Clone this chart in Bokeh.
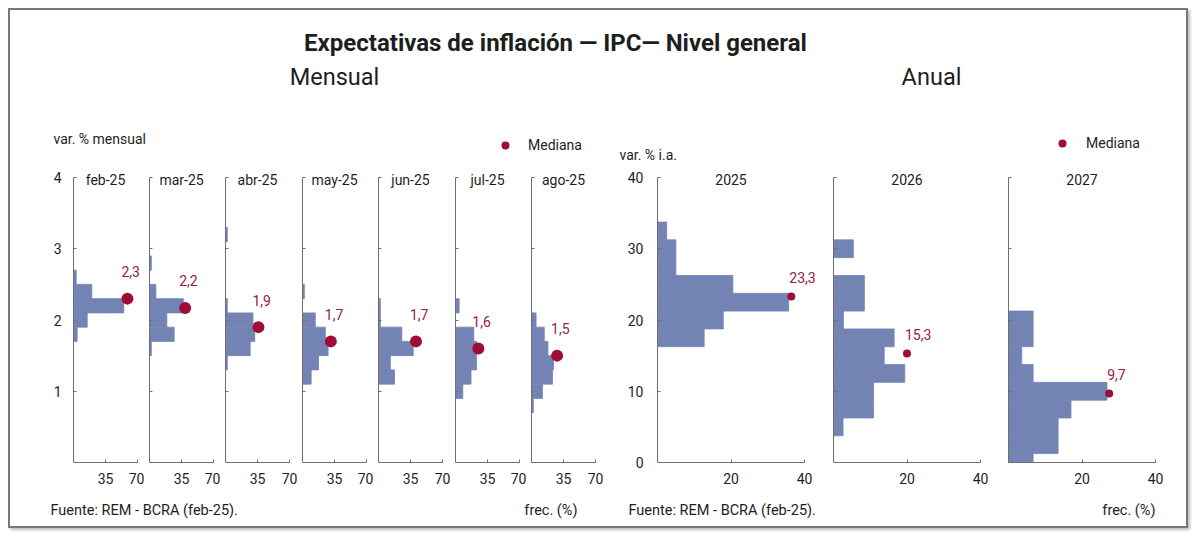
from bokeh.plotting import figure
from bokeh.layouts import row, column
from bokeh.models import Range1d, FixedTicker, Label, Legend, LegendItem
from bokeh.embed import file_html
from bokeh.resources import INLINE
from bokeh.core.properties import value

FONT = "Roboto"
BAR = "#7384B4"
DOT = "#A00D34"
LBL = "#962147"
AXC = "#6f6f6f"
TXT = "#1e1e1e"

# ---------------- data: monthly ----------------
monthly_periods = ["feb-25", "mar-25", "abr-25", "may-25", "jun-25", "jul-25", "ago-25"]
monthly_bins = [0.8, 1.0, 1.2, 1.4, 1.6, 1.8, 2.0, 2.2, 2.4, 2.6, 2.8, 3.0, 3.2]
monthly_bin_width = 0.2
freq_feb = [0, 0, 0, 0, 0, 4, 15, 55, 20, 3, 0, 0, 0]
freq_mar = [0, 0, 0, 0, 2, 27, 19, 37, 7, 0, 2, 0, 0]
freq_abr = [0, 0, 0, 2, 27, 32, 30, 2, 0, 0, 0, 0, 2]
freq_may = [0, 0, 9.5, 17.5, 28, 25, 14, 0, 2, 0, 0, 0, 0]
freq_jun = [0, 0, 17.5, 13, 38, 25.5, 2, 2, 0, 0, 0, 0, 0]
freq_jul = [0, 8, 17, 23, 23, 20, 0, 4, 0, 0, 0, 0, 0]
freq_ago = [2, 12, 23, 24, 18, 14, 5, 0, 0, 0, 0, 0, 0]
monthly_freqs = [freq_feb, freq_mar, freq_abr, freq_may, freq_jun, freq_jul, freq_ago]
monthly_median = [2.3, 2.17, 1.9, 1.7, 1.7, 1.6, 1.5]
monthly_median_freq = [59, 39, 36, 31, 41, 25, 28]
monthly_median_label = ["2,3", "2,2", "1,9", "1,7", "1,7", "1,6", "1,5"]
monthly_xmax = 70
monthly_ymax = 4
monthly_xticks = [35, 70]
monthly_yticks = [1, 2, 3, 4]

# ---------------- data: annual ----------------
annual_periods = ["2025", "2026", "2027"]
annual_bins = [0, 2.5, 5, 7.5, 10, 12.5, 15, 17.5, 20, 22.5, 25, 27.5, 30, 32.5]
annual_bin_width = 2.5
freq_2025 = [0, 0, 0, 0, 0, 0, 0, 12.7, 17.9, 35.7, 20.5, 5, 5, 2.5]
freq_2026 = [0, 0, 2.6, 10.9, 10.9, 19.4, 13.8, 16.5, 2.7, 8.4, 8.4, 0, 5.4, 0]
freq_2027 = [6.7, 13.5, 13.5, 17, 26.8, 6.7, 3.6, 6.7, 6.7, 0, 0, 0, 0, 0]
annual_freqs = [freq_2025, freq_2026, freq_2027]
annual_median = [23.3, 15.3, 9.7]
annual_median_freq = [36.4, 20, 27.4]
annual_median_label = ["23,3", "15,3", "9,7"]
annual_xmax = 40
annual_ymax = 40
annual_xticks = [20, 40]
annual_yticks = [0, 10, 20, 30, 40]

# ---------------- layout (pixels) ----------------
PANEL_H = 330
BOTTOM = 30
FRAME_H = PANEL_H - BOTTOM          # frame height
AXIS_H = 285                        # pixels spanned by the y axis
M_AXIS_W = 64                       # pixels spanned by 0..70
A_AXIS_W = 147                      # pixels spanned by 0..40


def make_panel(title, bins, bw, freqs, med, medf, medlab, xmax, ymax, xticks, yticks,
               width, left, axis_w, show_y, dot_size, lx, ly, ystand):
    fw = width - left
    x_end = xmax * fw / axis_w
    y_end = ymax * FRAME_H / AXIS_H
    p = figure(width=width, height=PANEL_H, x_range=Range1d(0, x_end), y_range=Range1d(0, y_end),
               output_backend="svg", toolbar_location=None,
               min_border_left=left, min_border_right=0,
               min_border_top=0, min_border_bottom=BOTTOM)
    p.outline_line_color = None
    p.xgrid.grid_line_color = None
    p.ygrid.grid_line_color = None
    ys = [b for b, f in zip(bins, freqs) if f > 0]
    fs = [f for f in freqs if f > 0]
    p.hbar(y=ys, height=bw, left=0, right=fs, fill_color=BAR, line_color=BAR, line_width=0.8)
    p.scatter(x=[medf], y=[med], size=dot_size, fill_color=DOT, line_color=None)
    p.text(x=[medf], y=[med], text=[medlab], x_offset=lx, y_offset=ly,
           text_font=value(FONT), text_font_size="14px", text_color=LBL,
           text_align="left", text_baseline="middle")
    for ax in (p.xaxis[0], p.yaxis[0]):
        ax.axis_line_color = AXC
        ax.major_tick_line_color = AXC
        ax.minor_tick_line_color = None
        ax.major_tick_in = 3
        ax.major_tick_out = 0
        ax.major_label_text_font = FONT
        ax.major_label_text_font_size = "14px"
        ax.major_label_text_color = TXT
    p.xaxis[0].bounds = (0, xmax)
    p.yaxis[0].bounds = (0, ymax)
    p.xaxis[0].ticker = FixedTicker(ticks=xticks)
    p.xaxis[0].major_label_standoff = 10
    p.yaxis[0].ticker = FixedTicker(ticks=yticks)
    if show_y:
        p.yaxis[0].major_label_standoff = ystand
    else:
        p.yaxis[0].major_label_overrides = {t: "" for t in yticks}
        p.yaxis[0].major_label_text_color = None
        p.yaxis[0].major_label_standoff = 0
    p.add_layout(Label(x=xmax / 2, y=ymax, y_offset=-2, text=title, text_align="center",
                       text_baseline="alphabetic", text_font=FONT, text_font_size="14px",
                       text_color=TXT))
    return p


panels = []
m_widths = [134, 76, 77, 76, 77, 76, 77]
m_left = [63, 5, 5, 5, 5, 5, 5]
for i, per in enumerate(monthly_periods):
    panels.append(make_panel(per, monthly_bins, monthly_bin_width, monthly_freqs[i],
                             monthly_median[i], monthly_median_freq[i], monthly_median_label[i],
                             monthly_xmax, monthly_ymax, monthly_xticks, monthly_yticks,
                             m_widths[i], m_left[i], M_AXIS_W, i == 0, 12, -6, -27, 12))

a_widths = [213, 172, 198]
a_left = [54, 17, 20]
for i, per in enumerate(annual_periods):
    panels.append(make_panel(per, annual_bins, annual_bin_width, annual_freqs[i],
                             annual_median[i], annual_median_freq[i], annual_median_label[i],
                             annual_xmax, annual_ymax, annual_xticks, annual_yticks,
                             a_widths[i], a_left[i], A_AXIS_W, i == 0, 8, -2, -19, 14))

# ---------------- header ----------------
HW = 1176
HH = 152
hdr = figure(width=HW, height=HH, x_range=Range1d(0, HW), y_range=Range1d(HH, 0),
             output_backend="svg", toolbar_location=None, min_border=0,
             x_axis_location=None, y_axis_location=None)
hdr.outline_line_color = None
hdr.grid.visible = False


def lab(fig, x, y, text, size, align="left", weight="normal", base="middle"):
    fig.add_layout(Label(x=x, y=y, text=text, text_align=align, text_baseline=base,
                         text_font=FONT, text_font_size=size, text_font_style=weight,
                         text_color=TXT))


lab(hdr, 545, 32, "Expectativas de inflación — IPC— Nivel general", "24px", "center", "bold")
lab(hdr, 324, 66, "Mensual", "23.5px", "center")
lab(hdr, 921, 66, "Anual", "23.5px", "center")
lab(hdr, 43, 128, "var. % mensual", "14px")
lab(hdr, 609, 144, "var. % i.a.", "14px")

nan = float("nan")
leg_r1 = hdr.scatter(x=[nan], y=[nan], size=12, fill_color=DOT, line_color=None)
leg_r2 = hdr.scatter(x=[nan], y=[nan], size=12, fill_color=DOT, line_color=None)
for r, loc, st in ((leg_r1, (485, 7), 13), (leg_r2, (1042, 9), 14)):
    lg = Legend(items=[LegendItem(label="Mediana", renderers=[r])], location=loc,
                glyph_width=20, glyph_height=20, label_standoff=st, padding=0, margin=0,
                spacing=0, label_height=20, border_line_color=None, background_fill_alpha=0,
                label_text_font=FONT, label_text_font_size="14px", label_text_color=TXT)
    hdr.add_layout(lg)

# ---------------- footer ----------------
FH = 34
ftr = figure(width=HW, height=FH, x_range=Range1d(0, HW), y_range=Range1d(FH, 0),
             output_backend="svg", toolbar_location=None, min_border=0,
             x_axis_location=None, y_axis_location=None)
ftr.outline_line_color = None
ftr.grid.visible = False
lab(ftr, 40, 18, "Fuente: REM - BCRA (feb-25).", "14.5px")
lab(ftr, 567, 18, "frec. (%)", "14.5px", "right")
lab(ftr, 618, 18, "Fuente: REM - BCRA (feb-25).", "14.5px")
lab(ftr, 1145, 18, "frec. (%)", "14.5px", "right")

layout = column(hdr, row(*panels), ftr,
                styles={"margin": "8px 0px 0px 8px",
                        "border": "2px solid #777777",
                        "box-shadow": "2px 2px 3px #bbbbbb"})

open("out.html", "w").write(file_html(layout, INLINE))
